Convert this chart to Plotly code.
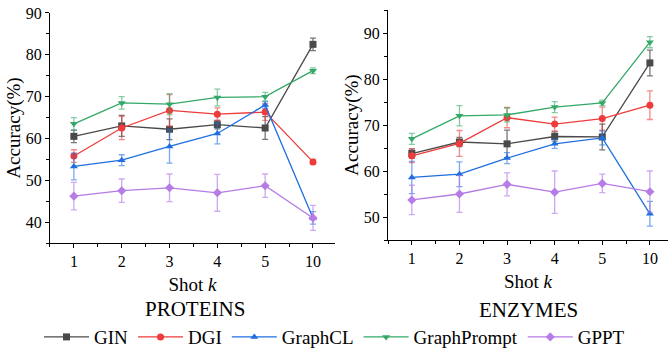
import plotly.graph_objects as go

shots = ["1", "2", "3", "4", "5", "10"]
methods = ["GIN", "DGI", "GraphCL", "GraphPrompt", "GPPT"]

# PROTEINS accuracy (%) and std
proteins_mean = {
    "GIN":         [60.5, 63.0, 62.2, 63.3, 62.5, 82.5],
    "DGI":         [55.8, 62.5, 66.7, 65.8, 66.3, 54.4],
    "GraphCL":     [53.3, 54.8, 58.1, 61.2, 68.0, 41.0],
    "GraphPrompt": [63.5, 68.5, 68.2, 69.8, 70.0, 76.2],
    "GPPT":        [46.2, 47.5, 48.2, 47.0, 48.7, 41.0],
}
proteins_std = {
    "GIN":         [1.5, 2.5, 2.5, 1.0, 2.7, 1.5],
    "DGI":         [1.5, 2.8, 3.8, 1.5, 2.0, 0.6],
    "GraphCL":     [3.2, 1.3, 4.0, 2.5, 0.8, 1.5],
    "GraphPrompt": [1.5, 1.5, 2.5, 2.0, 1.0, 0.7],
    "GPPT":        [3.3, 2.8, 3.3, 4.4, 2.8, 3.0],
}
# ENZYMES accuracy (%) and std
enzymes_mean = {
    "GIN":         [63.8, 66.3, 65.9, 67.5, 67.4, 83.5],
    "DGI":         [63.3, 66.0, 71.6, 70.2, 71.4, 74.3],
    "GraphCL":     [58.6, 59.3, 62.8, 65.9, 67.2, 50.7],
    "GraphPrompt": [67.0, 72.0, 72.2, 73.9, 74.8, 88.0],
    "GPPT":        [53.7, 55.0, 57.1, 55.4, 57.3, 55.5],
}
enzymes_std = {
    "GIN":         [1.0, 1.0, 3.0, 1.0, 2.8, 2.8],
    "DGI":         [1.5, 2.8, 2.2, 1.5, 2.5, 3.1],
    "GraphCL":     [3.5, 2.7, 1.2, 1.0, 1.5, 2.7],
    "GraphPrompt": [1.2, 2.2, 1.5, 1.2, 0.6, 1.2],
    "GPPT":        [3.2, 4.0, 2.5, 4.6, 2.0, 4.5],
}

colors = {
    "GIN": "#4a4a4a",
    "DGI": "#ee3b3b",
    "GraphCL": "#1f6fe0",
    "GraphPrompt": "#33a867",
    "GPPT": "#b57be6",
}
err_colors = {
    "GIN": "rgba(74,74,74,0.75)",
    "DGI": "rgba(238,59,59,0.6)",
    "GraphCL": "rgba(31,111,224,0.6)",
    "GraphPrompt": "rgba(51,168,103,0.6)",
    "GPPT": "rgba(181,123,230,0.65)",
}
symbols = {
    "GIN": "square",
    "DGI": "circle",
    "GraphCL": "triangle-up",
    "GraphPrompt": "triangle-down",
    "GPPT": "diamond",
}

FONT = "Liberation Serif"
xs = list(range(len(shots)))

fig = go.Figure()
for panel, (means, stds) in enumerate([(proteins_mean, proteins_std), (enzymes_mean, enzymes_std)]):
    xa = "x" if panel == 0 else "x2"
    ya = "y" if panel == 0 else "y2"
    for m in methods:
        fig.add_trace(go.Scatter(
            x=xs, y=means[m], name=m, mode="lines+markers",
            xaxis=xa, yaxis=ya, showlegend=(panel == 0),
            line=dict(color=colors[m], width=1.3),
            marker=dict(symbol=symbols[m], size=7, color=colors[m]),
            error_y=dict(type="data", array=stds[m], visible=True,
                         color=err_colors[m], thickness=1.3, width=3),
        ))

axis_common = dict(
    showline=True, linecolor="black", linewidth=1, mirror=False,
    ticks="outside", ticklen=4, tickwidth=1, tickcolor="black",
    showgrid=False, zeroline=False, automargin=False,
    tickfont=dict(family=FONT, size=16, color="black"),
)
xaxis_common = dict(axis_common, tickvals=xs, ticktext=shots,
                    minor=dict(dtick=0.5, tick0=0.5, ticks="outside", ticklen=3, tickcolor="black"),
                    title=dict(text="Shot <i>k</i>", font=dict(family=FONT, size=19, color="black"), standoff=8))

fig.update_layout(
    width=669, height=350,
    margin=dict(l=0, r=0, t=0, b=0, autoexpand=False),
    paper_bgcolor="white", plot_bgcolor="white",
    font=dict(family=FONT, color="black"),
    xaxis=dict(xaxis_common, domain=[0.0747, 0.5007], range=[-0.5, 5.46], anchor="y"),
    yaxis=dict(axis_common, domain=[0.3057, 0.9629], range=[35, 90], dtick=10, anchor="x",
               minor=dict(dtick=5, ticks="outside", ticklen=3, tickcolor="black"),
               title=dict(text="Accuracy(%)", font=dict(family=FONT, size=19, color="black"), standoff=0)),
    xaxis2=dict(xaxis_common, domain=[0.58, 0.9985], range=[-0.5, 5.38], anchor="y2"),
    yaxis2=dict(axis_common, domain=[0.3143, 0.9714], range=[45, 95], dtick=10, anchor="x2",
                minor=dict(dtick=5, ticks="outside", ticklen=3, tickcolor="black"),
                title=dict(text="Accuracy(%)", font=dict(family=FONT, size=19, color="black"), standoff=0)),
    legend=dict(orientation="h", x=0.5, xanchor="center", y=0.037, yanchor="middle",
                font=dict(family=FONT, size=19, color="black"), itemwidth=45,
                bgcolor="rgba(0,0,0,0)", tracegroupgap=0),
    annotations=[
        dict(text="PROTEINS", x=0.2915, y=(350 - 309) / 350, xref="paper", yref="paper",
             showarrow=False, font=dict(family=FONT, size=21, color="black"),
             xanchor="center", yanchor="middle"),
        dict(text="ENZYMES", x=0.7895, y=(350 - 310) / 350, xref="paper", yref="paper",
             showarrow=False, font=dict(family=FONT, size=21, color="black"),
             xanchor="center", yanchor="middle"),
    ],
)

fig.write_html("out.html", config={"displayModeBar": False},
               post_script="document.body.style.margin='0';document.body.style.padding='0';")
